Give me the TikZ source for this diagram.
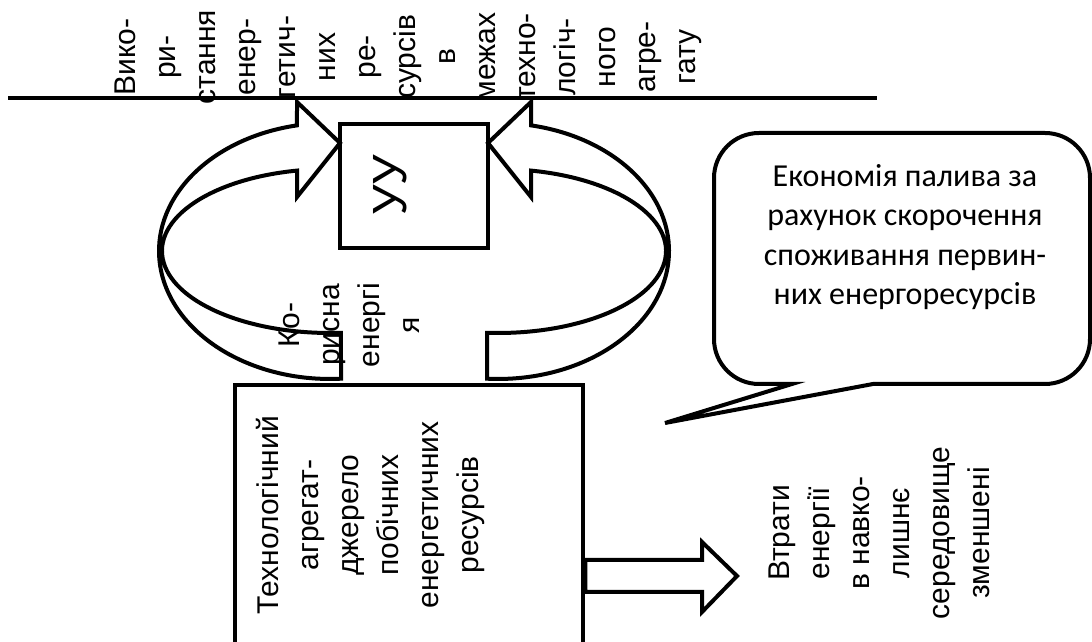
\documentclass[tikz,border=0pt]{standalone}
\usepackage{fontspec}
\setmainfont{Liberation Sans}
\newfontfamily\calfont{Carlito}
\usetikzlibrary{calc}

\begin{document}
\begin{tikzpicture}[x=1pt,y=1pt,
      vtext/.style={rotate=90,align=center,inner sep=0pt,font=\fontsize{30}{40}\selectfont},
      box/.style={draw,line width=4.5pt,inner sep=0pt},
      ribbon/.style={draw,line width=4pt,line join=miter},
      bubble/.style={draw,line width=4pt}]

    \clip (0,0) rectangle (1092,642);

    \coordinate (lineL) at (8,544);
    \coordinate (lineR) at (877,544);
    \draw[line width=4pt] (lineL) -- (lineR);

    \node[vtext] (use) at (408,585)
      {Вико-\\ри-\\стання\\енер-\\гетич-\\них\\ре-\\сурсів\\в\\межах\\техно-\\логіч-\\ного\\агре-\\гату};

    \node[box,minimum width=148,minimum height=124] (uu) at (414,456) {};
    \node[vtext,font=\fontsize{48}{60}\selectfont] (uulbl) at (390,457) {УУ};

    \node[box,minimum width=348,minimum height=275] (tech) at (409,119.5) {};
    \node[vtext] (techlbl) at (370,127)
      {Технологічний\\агрегат-\\джерело\\побічних\\енергетичних\\ресурсів};

    \foreach \sx/\dx in {1/0,-1/828}
      \draw[ribbon,shift={(\dx,0)},xscale=\sx] (341,263.3)
        arc[start angle=273.69,end angle=101.13,x radius=171,y radius=128]
        -- (297,540) -- (340,499) -- (297,445) -- (297,471.4)
        arc[start angle=101.33,end angle=273.75,x radius=168,y radius=82]
        -- cycle;

    \node[vtext] (useful) at (349,317) {Ко-\\рисна\\енергі\\я};

    \draw[ribbon] (tech.east |- 0,82) -- (702,82) -- (702,100) -- (737,66)
      -- (702,30) -- (702,50) -- (tech.east |- 0,50) -- cycle;
    \node[vtext] (loss) at (879,109)
      {Втрати\\енергії\\в навко-\\лишнє\\середовище\\зменшені};

    \draw[bubble] (665,219) -- (792,258) -- (759,258)
      arc[start angle=270,end angle=180,radius=45] -- (714,464)
      arc[start angle=180,end angle=90,radius=45] -- (1045,509)
      arc[start angle=90,end angle=0,radius=45] -- (1090,303)
      arc[start angle=0,end angle=-90,radius=45] -- (873,258) -- cycle;
    \node[align=center,font=\calfont\fontsize{32}{39.5}\selectfont] (econ) at (905,405)
      {Економія палива за\\рахунок скорочення\\споживання первин-\\них енергоресурсів};
  \end{tikzpicture}
\end{document}
